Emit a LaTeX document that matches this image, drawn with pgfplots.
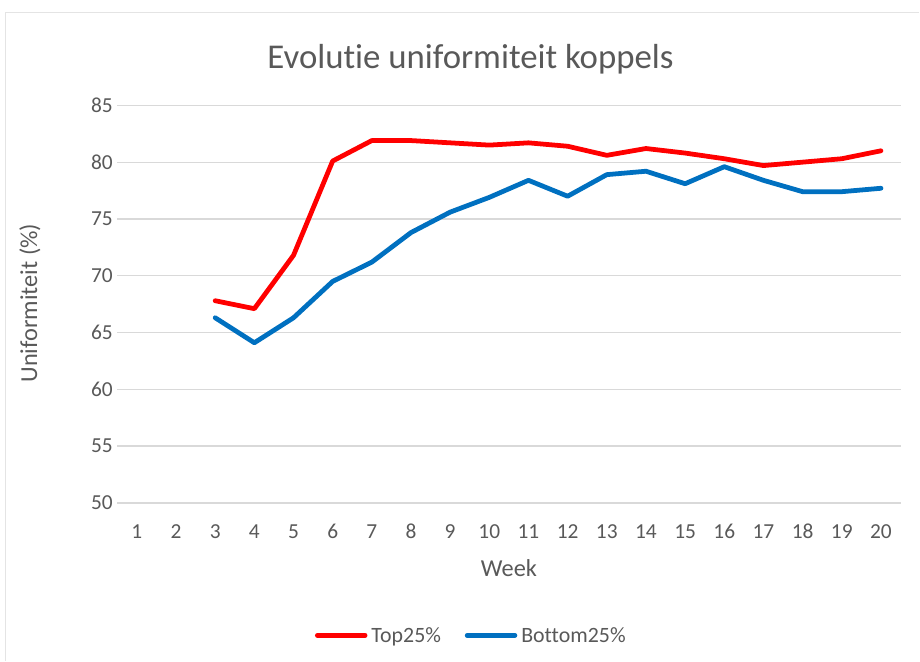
\documentclass[border=0pt]{standalone}
\usepackage{pgfplots}
\pgfplotsset{compat=1.18}
\usepackage{fontspec}
\setmainfont[Ligatures={NoCommon}]{Carlito}
\definecolor{txt}{HTML}{595959}
\definecolor{gridc}{HTML}{D9D9D9}
\definecolor{redc}{HTML}{FF0000}
\definecolor{bluec}{HTML}{0070C0}
\begin{document}
\begin{tikzpicture}[x=1pt,y=1pt]
\path (0,0) rectangle (920,660);
\draw[gridc!70, line width=1.2pt] (5.5,-5) -- (5.5,647.5) -- (925,647.5);
\begin{axis}[
  at={(118pt,154pt)}, anchor=south west,
  scale only axis, width=788pt, height=400pt,
  xmin=0.5, xmax=20.5, ymin=50, ymax=85,
  xtick={1,...,20}, ytick={50,55,...,85},
  axis line style={draw=none},
  major tick length=0pt,
  ymajorgrids, grid style={gridc, line width=1.3pt},
  /pgf/number format/assume math mode=true,
  tick label style={font=\fontsize{21.5}{25}\selectfont, text=txt},
  yticklabel style={xshift=-1pt},
  xticklabel style={anchor=base, yshift=-36pt},
  title={Evolutie uniformiteit koppels},
  title style={at={(axis description cs:0.451,1.10)}, anchor=center, font=\fontsize{35}{40}\selectfont, text=txt},
  ylabel={Uniformiteit (\%)},
  ylabel style={at={(axis description cs:-0.1117,0.5025)}, anchor=center, rotate=0, font=\fontsize{24.5}{28}\selectfont, text=txt},
  xlabel={Week},
  xlabel style={at={(axis description cs:0.5,-0.165)}, anchor=center, font=\fontsize{24.5}{28}\selectfont, text=txt},
  legend columns=2,
  legend style={at={(axis description cs:0.452,-0.333)}, anchor=center, draw=none, fill=none,
    font=\fontsize{22}{26}\selectfont, text=txt,
    /tikz/every odd column/.append style={column sep=2pt},
    /tikz/every even column/.append style={column sep=22pt}},
  legend image code/.code={\draw[#1] (0pt,0pt) -- (48pt,0pt);},
]
\addplot[redc, line width=4.8pt, line join=round, line cap=round] coordinates {
(3,67.8) (4,67.1) (5,71.8) (6,80.1) (7,81.9) (8,81.9) (9,81.7) (10,81.5) (11,81.7) (12,81.4)
(13,80.6) (14,81.2) (15,80.8) (16,80.3) (17,79.7) (18,80.0) (19,80.3) (20,81.0)};
\addlegendentry{Top25\%}
\addplot[bluec, line width=4.8pt, line join=round, line cap=round] coordinates {
(3,66.3) (4,64.1) (5,66.3) (6,69.5) (7,71.2) (8,73.8) (9,75.6) (10,76.9) (11,78.4) (12,77.0)
(13,78.9) (14,79.2) (15,78.1) (16,79.6) (17,78.4) (18,77.4) (19,77.4) (20,77.7)};
\addlegendentry{Bottom25\%}
\end{axis}
\end{tikzpicture}
\end{document}
